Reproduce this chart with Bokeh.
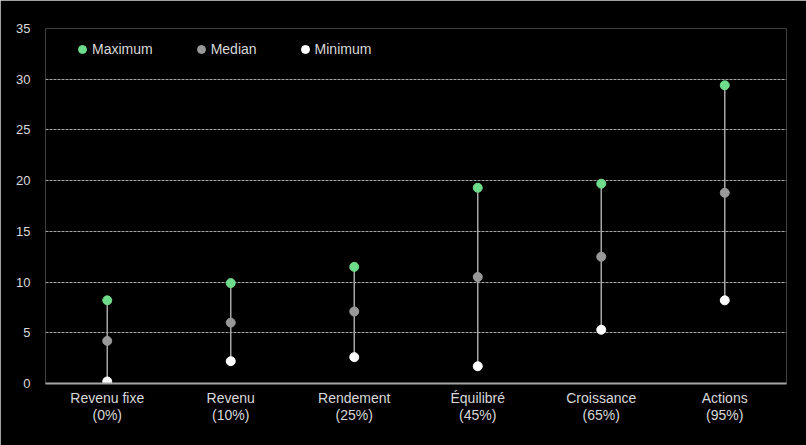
from bokeh.plotting import figure
from bokeh.models import (Range1d, FactorRange, Legend, LegendItem, ColumnDataSource,
                          CategoricalAxis)
from bokeh.embed import file_html
from bokeh.resources import INLINE

categories = ["Revenu fixe", "Revenu", "Rendement", "Équilibré", "Croissance", "Actions"]
equity_share = ["(0%)", "(10%)", "(25%)", "(45%)", "(65%)", "(95%)"]
maximum = [8.2, 9.9, 11.5, 19.3, 19.7, 29.4]
median = [4.2, 6.0, 7.1, 10.5, 12.5, 18.8]
minimum = [0.2, 2.2, 2.6, 1.7, 5.3, 8.2]

FONT = "Liberation Sans"
TXT = "#d9d9d9"

p = figure(width=806, height=445, x_range=FactorRange(*categories),
           y_range=Range1d(0, 35), output_backend="svg", toolbar_location=None,
           background_fill_color="black", border_fill_color="black",
           min_border_left=45, min_border_right=20, min_border_top=28,
           min_border_bottom=62, outline_line_color=None)
p.styles = {"outline": "1px solid #d9d9d9", "outline-offset": "-1px"}
p.extra_x_ranges = {"pct": FactorRange(*equity_share)}

src = ColumnDataSource(dict(cat=categories, mx=maximum, md=median, mn=minimum))
p.segment(x0="cat", y0="mn", x1="cat", y1="mx", source=src,
          line_color="#a6a6a6", line_width=1.5)
r_max = p.scatter(x="cat", y="mx", source=src, size=9, fill_color="#6fdc8c",
                  line_color="#6fdc8c")
r_med = p.scatter(x="cat", y="md", source=src, size=9, fill_color="#999999",
                  line_color="#999999")
r_min = p.scatter(x="cat", y="mn", source=src, size=9, fill_color="white",
                  line_color="white")

p.xgrid.grid_line_color = None
p.ygrid.grid_line_color = "#a6a6a6"
p.ygrid.grid_line_dash = "3 1"
p.ygrid.grid_line_width = 1

p.yaxis.ticker = [0, 5, 10, 15, 20, 25, 30, 35]
p.yaxis.axis_line_color = None
p.yaxis.major_tick_line_color = None
p.yaxis.minor_tick_line_color = None
p.yaxis.major_label_standoff = 9
p.yaxis.major_label_text_color = TXT
p.yaxis.major_label_text_font = FONT
p.yaxis.major_label_text_font_size = "13px"

p.xaxis.axis_line_color = "#a6a6a6"
p.xaxis.axis_line_width = 2
p.xaxis.major_tick_line_color = None
p.xaxis.minor_tick_line_color = None
p.xaxis.major_tick_out = 0
p.xaxis.major_tick_in = 0
p.xaxis.major_label_standoff = 6
p.xaxis.major_label_text_color = TXT
p.xaxis.major_label_text_font = FONT
p.xaxis.major_label_text_font_size = "14px"

pct_axis = CategoricalAxis(x_range_name="pct")
pct_axis.axis_line_color = None
pct_axis.major_tick_line_color = None
pct_axis.minor_tick_line_color = None
pct_axis.major_tick_out = 0
pct_axis.major_tick_in = 0
pct_axis.major_label_standoff = -2
pct_axis.major_label_text_color = TXT
pct_axis.major_label_text_font = FONT
pct_axis.major_label_text_font_size = "14px"
p.add_layout(pct_axis, "below")

legend = Legend(items=[LegendItem(label="Maximum", renderers=[r_max]),
                       LegendItem(label="Median", renderers=[r_med]),
                       LegendItem(label="Minimum", renderers=[r_min])],
                orientation="horizontal", location=(27, 324),
                background_fill_alpha=0, border_line_color=None,
                padding=0, margin=0, spacing=38, label_standoff=-6,
                glyph_width=20, glyph_height=20, label_height=20,
                label_text_color=TXT, label_text_font=FONT,
                label_text_font_size="14px")
p.add_layout(legend, "center")

open("out.html", "w").write(file_html(p, INLINE))
